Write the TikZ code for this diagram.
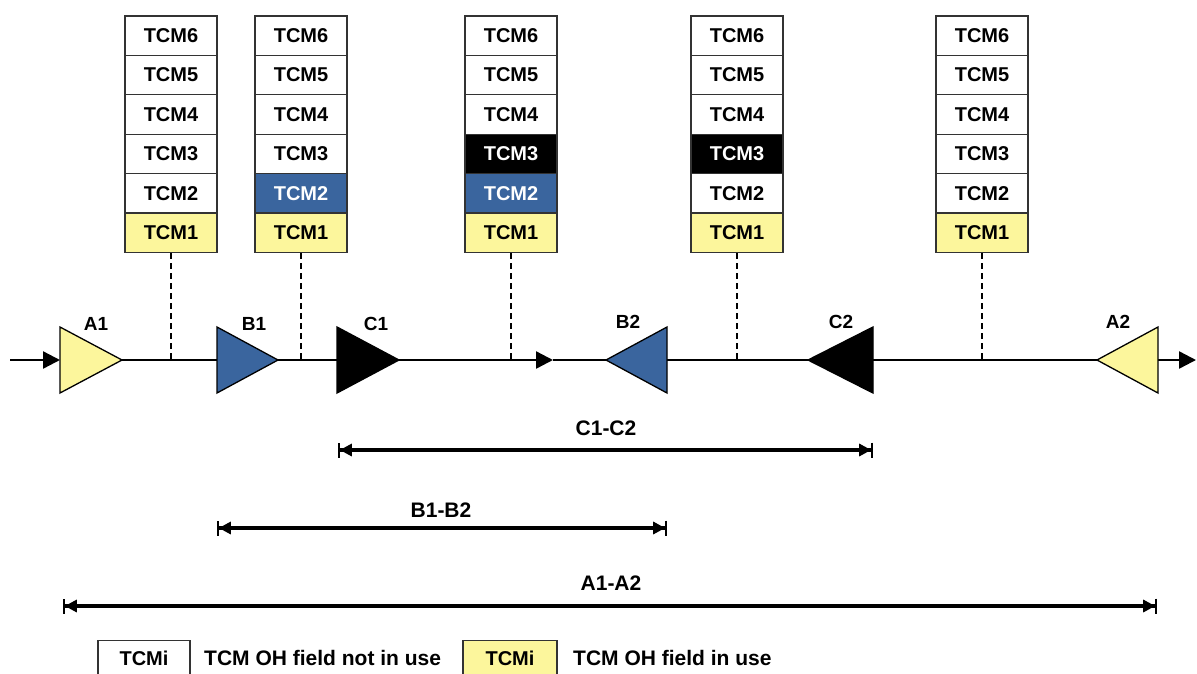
\documentclass[tikz,border=0pt]{standalone}
\usepackage{fontspec}
\setmainfont{Liberation Sans}
\usetikzlibrary{arrows.meta}
\definecolor{tcmyellow}{HTML}{FCF69C}
\definecolor{tcmblue}{HTML}{3A659E}
\definecolor{edgegray}{HTML}{333333}
\begin{document}
\begin{tikzpicture}[x=1pt,y=-1pt,
  cell/.style={draw=edgegray,line width=1.3pt,minimum width=92pt,minimum height=39.4pt,
    inner sep=0pt,font=\fontsize{20}{23}\selectfont\bfseries,fill=white,text=black},
  inuse/.style={fill=tcmyellow},
  blueuse/.style={fill=tcmblue,text=white},
  blackuse/.style={fill=black,text=white},
  tap/.style={dashed,dash pattern=on 6pt off 4pt,line width=1.3pt,draw=black},
  mainline/.style={line width=2.4pt,draw=black},
  flow/.style={mainline,-{Triangle[length=17pt,width=17pt]}},
  tri/.style={draw=black,line width=1.3pt,line join=miter},
  lbl/.style={font=\fontsize{19}{22}\selectfont\bfseries},
  spanlbl/.style={font=\fontsize{21}{24}\selectfont\bfseries},
  span/.style={line width=3.4pt,
    {Bar[width=15pt,line width=1.8pt]Triangle[length=12pt,width=12pt]}-{Triangle[length=12pt,width=12pt]Bar[width=15pt,line width=1.8pt]}},
  legendtext/.style={font=\fontsize{21}{24}\selectfont\bfseries,anchor=west,inner sep=0pt},
]
\clip (0,0) rectangle (1197,673);
\fill[white] (0,0) rectangle (1197,673);

% ---- TCM overhead stacks ----
\foreach \s/\x/\two/\three in {1/171/{}/{}, 2/301/blueuse/{}, 3/511/blueuse/blackuse,
                               4/737/{}/blackuse, 5/982/{}/{}}{
  \node[cell]          (s\s-6) at (\x,35.7)  {TCM6};
  \node[cell]          (s\s-5) at (\x,75.1)  {TCM5};
  \node[cell]          (s\s-4) at (\x,114.5) {TCM4};
  \node[cell,\three]   (s\s-3) at (\x,153.9) {TCM3};
  \node[cell,\two]     (s\s-2) at (\x,193.3) {TCM2};
  \node[cell,inuse]    (s\s-1) at (\x,232.7) {TCM1};
  \coordinate (t\s) at (\x,360);
}

% ---- taps from the stacks down to the trail ----
\foreach \s in {1,...,5}{
  \draw[tap] (s\s-1.south) -- (t\s);
}

% ---- trail points ----
\coordinate (in)   at (10,360);
\coordinate (out)  at (1196,360);
\coordinate (mid)  at (553,360);
\coordinate (a1b) at (60,360);   \coordinate (a1t) at (122,360);
\coordinate (b1b) at (217,360);  \coordinate (b1t) at (278,360);
\coordinate (c1b) at (337,360);  \coordinate (c1t) at (399,360);
\coordinate (b2t) at (606,360);  \coordinate (b2b) at (667,360);
\coordinate (c2t) at (808,360);  \coordinate (c2b) at (873,360);
\coordinate (a2t) at (1097,360); \coordinate (a2b) at (1158,360);

% ---- trail segments ----
\draw[flow] (in) -- (a1b);
\draw[mainline] (a1t) -- (b1b);
\draw[mainline] (b1t) -- (c1b);
\draw[flow] (c1t) -- (mid);
\draw[mainline] (mid) -- (b2t);
\draw[mainline] (b2b) -- (c2t);
\draw[mainline] (c2b) -- (a2t);
\draw[flow] (a2b) -- (out);

% ---- termination points ----
\filldraw[tri,fill=tcmyellow] ([yshift=-33pt]a1b) -- (a1t) -- ([yshift=33pt]a1b) -- cycle;
\filldraw[tri,fill=tcmblue]   ([yshift=-33pt]b1b) -- (b1t) -- ([yshift=33pt]b1b) -- cycle;
\filldraw[tri,fill=black]     ([yshift=-33pt]c1b) -- (c1t) -- ([yshift=33pt]c1b) -- cycle;
\filldraw[tri,fill=tcmblue]   ([yshift=-33pt]b2b) -- (b2t) -- ([yshift=33pt]b2b) -- cycle;
\filldraw[tri,fill=black]     ([yshift=-33pt]c2b) -- (c2t) -- ([yshift=33pt]c2b) -- cycle;
\filldraw[tri,fill=tcmyellow] ([yshift=-33pt]a2b) -- (a2t) -- ([yshift=33pt]a2b) -- cycle;

\node[lbl] (la1) at (96,324)   {A1};
\node[lbl] (lb1) at (254,324)  {B1};
\node[lbl] (lc1) at (376,324)  {C1};
\node[lbl] (lb2) at (628,322)  {B2};
\node[lbl] (lc2) at (841,322)  {C2};
\node[lbl] (la2) at (1118,322) {A2};

% ---- monitored spans ----
\coordinate (cs) at (338,450);  \coordinate (ce) at (873,450);
\coordinate (bs) at (217,528);  \coordinate (be) at (667,528);
\coordinate (as) at (63,606);   \coordinate (ae) at (1157,606);
\draw[span] (cs) -- (ce);
\draw[span] (bs) -- (be);
\draw[span] (as) -- (ae);
\node[spanlbl] (lcc) at (606,428) {C1-C2};
\node[spanlbl] (lbb) at (441,510) {B1-B2};
\node[spanlbl] (laa) at (611,583) {A1-A2};

% ---- legend ----
\node[cell,minimum width=92pt,minimum height=46pt,anchor=north,font=\fontsize{20}{24}\selectfont\bfseries,
      text depth=0pt] (k1) at (144,640) {\raisebox{10pt}{TCMi}};
\node[legendtext] (k1t) at (204,658) {TCM OH field not in use};
\node[cell,inuse,minimum width=94pt,minimum height=46pt,anchor=north,font=\fontsize{20}{24}\selectfont\bfseries,
      text depth=0pt] (k2) at (510,640) {\raisebox{10pt}{TCMi}};
\node[legendtext] (k2t) at (573,658) {TCM OH field in use};
\end{tikzpicture}
\end{document}
